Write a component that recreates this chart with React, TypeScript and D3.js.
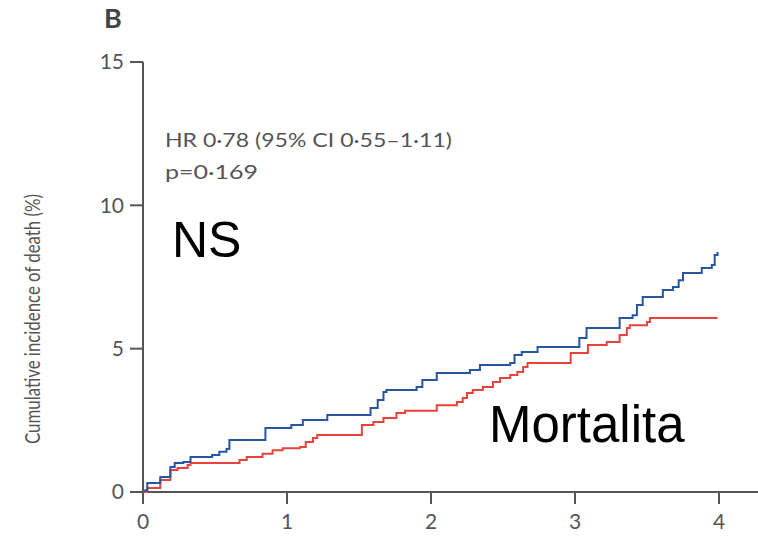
import React from "react";
import * as d3 from "d3";

const xTicks = [0, 1, 2, 3, 4];
const yTicks = [0, 5, 10, 15];

// Blue group: step times (years) and cumulative incidence (%)
const blueTimes = [0, 0.03, 0.12, 0.19, 0.22, 0.28, 0.33, 0.48, 0.53, 0.58, 0.6, 0.85, 1.03, 1.11, 1.28, 1.58, 1.63, 1.67, 1.69, 1.9, 1.94, 2.04, 2.27, 2.34, 2.55, 2.58, 2.63, 2.74, 3.03, 3.08, 3.31, 3.4, 3.43, 3.47, 3.61, 3.68, 3.72, 3.75, 3.88, 3.95, 3.97, 3.99];
const blueValues = [0.05, 0.31, 0.52, 0.87, 1.01, 1.05, 1.22, 1.29, 1.4, 1.5, 1.81, 2.23, 2.34, 2.51, 2.69, 2.93, 3.21, 3.49, 3.56, 3.66, 3.91, 4.15, 4.26, 4.43, 4.5, 4.78, 4.88, 5.06, 5.37, 5.72, 6.07, 6.17, 6.52, 6.8, 7.05, 7.15, 7.39, 7.64, 7.81, 7.92, 8.27, 8.37];

// Red group
const redTimes = [0, 0.03, 0.12, 0.19, 0.24, 0.31, 0.33, 0.67, 0.72, 0.83, 0.9, 0.97, 1.09, 1.13, 1.18, 1.21, 1.52, 1.6, 1.67, 1.76, 1.82, 2.04, 2.18, 2.22, 2.25, 2.29, 2.36, 2.43, 2.48, 2.55, 2.6, 2.64, 2.67, 2.97, 3.09, 3.22, 3.31, 3.36, 3.38, 3.5, 3.52, 3.99];
const redValues = [0, 0.14, 0.42, 0.77, 0.84, 0.94, 1.01, 1.12, 1.22, 1.33, 1.46, 1.53, 1.57, 1.74, 1.88, 1.99, 2.34, 2.44, 2.58, 2.76, 2.83, 3.03, 3.14, 3.28, 3.45, 3.56, 3.66, 3.84, 3.98, 4.08, 4.19, 4.36, 4.5, 4.85, 5.13, 5.23, 5.48, 5.72, 5.82, 5.93, 6.07, 6.07];

const W = 758;
const H = 540;
const axisColor = "#555";
const textColor = "#555";
const tickFont = "Lato, 'Open Sans', sans-serif";

export default function App() {
  const x = d3.scaleLinear().domain([0, 4]).range([143, 719]);
  const y = d3.scaleLinear().domain([0, 15]).range([492, 62]);

  const line = d3
    .line<[number, number]>()
    .x((d) => x(d[0]))
    .y((d) => y(d[1]))
    .curve(d3.curveStepAfter);

  const blueData: [number, number][] = blueTimes.map((t, i) => [t, blueValues[i]]);
  const redData: [number, number][] = redTimes.map((t, i) => [t, redValues[i]]);

  return (
    <svg
      width={W}
      height={H}
      style={{ position: "absolute", left: 0, top: 0, background: "#fff" }}
    >
      <rect x={0} y={0} width={W} height={H} fill="#fff" />
      {/* panel letter */}
      <text x={104} y={28} fontFamily={tickFont} fontWeight={700} fontSize={27} fill="#444">
        B
      </text>

      {/* y axis */}
      <line x1={143} x2={143} y1={y(15)} y2={y(0) + 12} stroke={axisColor} strokeWidth={2} />
      {yTicks.map((t) => (
        <g key={"y" + t}>
          <line x1={130} x2={143} y1={y(t)} y2={y(t)} stroke={axisColor} strokeWidth={2} />
          <text
            x={124}
            y={y(t)}
            dy="0.35em"
            textAnchor="end"
            fontFamily={tickFont}
            fontSize={21}
            fill={textColor}
          >
            {t}
          </text>
        </g>
      ))}

      {/* x axis */}
      <line x1={130} x2={W} y1={y(0)} y2={y(0)} stroke={axisColor} strokeWidth={2} />
      {xTicks.map((t) => (
        <g key={"x" + t}>
          <line x1={x(t)} x2={x(t)} y1={y(0)} y2={y(0) + 12} stroke={axisColor} strokeWidth={2} />
          <text
            x={x(t)}
            y={529}
            textAnchor="middle"
            fontFamily={tickFont}
            fontSize={21}
            fill={textColor}
          >
            {t}
          </text>
        </g>
      ))}

      {/* y axis label */}
      <text
        transform={`translate(40, 319) rotate(-90)`}
        textAnchor="middle"
        fontFamily={tickFont}
        fontSize={21}
        fill={textColor}
        textLength={250}
        lengthAdjust="spacingAndGlyphs"
      >
        Cumulative incidence of death (%)
      </text>

      {/* curves */}
      <path d={line(redData) || ""} fill="none" stroke="#e8433b" strokeWidth={2} />
      <path d={line(blueData) || ""} fill="none" stroke="#27559f" strokeWidth={2} />

      {/* annotations */}
      <text x={165} y={147} fontFamily={tickFont} fontSize={20} fill={textColor} textLength={287} lengthAdjust="spacingAndGlyphs">
        HR 0·78 (95% CI 0·55–1·11)
      </text>
      <text x={165} y={179} fontFamily={tickFont} fontSize={20} fill={textColor} textLength={93} lengthAdjust="spacingAndGlyphs">
        p=0·169
      </text>

      <text x={172} y={257} fontFamily="'Liberation Sans', Arial, sans-serif" fontSize={50} fill="#000">
        NS
      </text>
      <text x={489} y={442} fontFamily="'Liberation Sans', Arial, sans-serif" fontSize={51} fill="#000">
        Mortalita
      </text>
    </svg>
  );
}
